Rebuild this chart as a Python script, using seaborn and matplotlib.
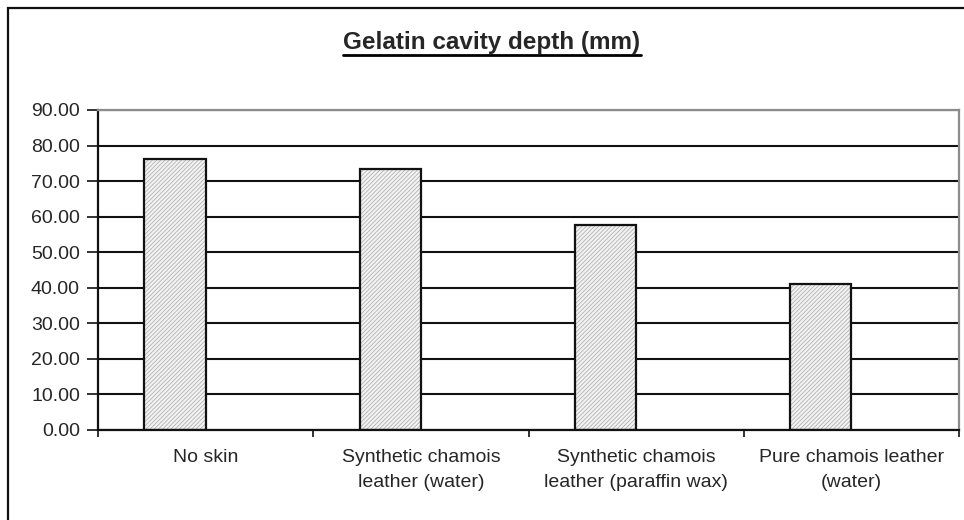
import numpy as np
import pandas as pd
import matplotlib
matplotlib.use("Agg")
import matplotlib.pyplot as plt
import seaborn as sns
from matplotlib.patches import Rectangle
from matplotlib.lines import Line2D

# Data
categories = [
    "No skin",
    "Synthetic chamois\nleather (water)",
    "Synthetic chamois\nleather (paraffin wax)",
    "Pure chamois leather\n(water)",
]
depth_mm = [76.2, 73.4, 57.6, 41.1]
y_ticks = [0, 10, 20, 30, 40, 50, 60, 70, 80, 90]

sns.set_style("white")
plt.rcParams["font.family"] = ["Liberation Sans", "DejaVu Sans"]
plt.rcParams["hatch.linewidth"] = 0.5

df = pd.DataFrame({"category": categories, "depth": depth_mm, "series": "depth"})

fig = plt.figure(figsize=(9.64, 5.2), dpi=100)
ax = fig.add_axes([98 / 964, 1 - 430 / 520, (959 - 98) / 964, (430 - 110) / 520])

# second (empty) series level keeps the Excel-style left offset of the bars
sns.barplot(data=df, x="category", y="depth", hue="series",
            hue_order=["depth", "blank"], order=categories,
            width=0.57, dodge=True, legend=False, ax=ax,
            color="#f0f0f0", saturation=1)

for p in list(ax.patches):
    p.set_facecolor("#f2f2f2")
    p.set_edgecolor("#a8a8a8")
    p.set_hatch("////////")
    p.set_linewidth(0)
    ax.add_patch(Rectangle((p.get_x(), p.get_y()), p.get_width(), p.get_height(),
                           fill=False, edgecolor="#111111", linewidth=1.6, zorder=3))

ax.set_ylim(0, 90)
ax.set_xlim(-0.5, len(categories) - 0.5)
ax.set_yticks(y_ticks)
ax.set_yticklabels([f"{v:.2f}" for v in y_ticks])
ax.yaxis.grid(True, color="#111111", linewidth=1.5)
ax.set_axisbelow(True)

ax.set_xticks(np.arange(len(categories) + 1) - 0.5)
ax.set_xticklabels([])
ax.set_xticks(np.arange(len(categories)), minor=True)
ax.set_xticklabels(categories, minor=True, fontsize=14, linespacing=1.6)
ax.tick_params(axis="x", which="minor", length=0, pad=14)
ax.tick_params(axis="x", which="major", direction="out", length=5, width=1.2,
               color="#111111", bottom=True)
ax.tick_params(axis="y", direction="out", length=8, width=1.2, color="#111111",
               pad=5, labelsize=14, left=True)
ax.set_xlabel("")
ax.set_ylabel("")

for side in ["left", "bottom"]:
    ax.spines[side].set_color("#111111")
    ax.spines[side].set_linewidth(1.6)
for side in ["top", "right"]:
    ax.spines[side].set_color("#8c8c8c")
    ax.spines[side].set_linewidth(1.6)

# outer chart frame
fig.patches.append(Rectangle((8 / 964, -0.1), 1.2, 1 - 8 / 520 + 0.1,
                             transform=fig.transFigure, fill=False,
                             edgecolor="#111111", linewidth=1.6))

title = fig.text(492 / 964, 1 - 42 / 520, "Gelatin cavity depth (mm)",
                 ha="center", va="center", fontsize=17.5, fontweight="bold")
fig.canvas.draw()
bb = title.get_window_extent().transformed(fig.transFigure.inverted())
fig.add_artist(Line2D([bb.x0, bb.x1], [bb.y0 - 1 / 520, bb.y0 - 1 / 520],
                      transform=fig.transFigure, color="black", linewidth=2))

fig.savefig("out.png", dpi=100)
